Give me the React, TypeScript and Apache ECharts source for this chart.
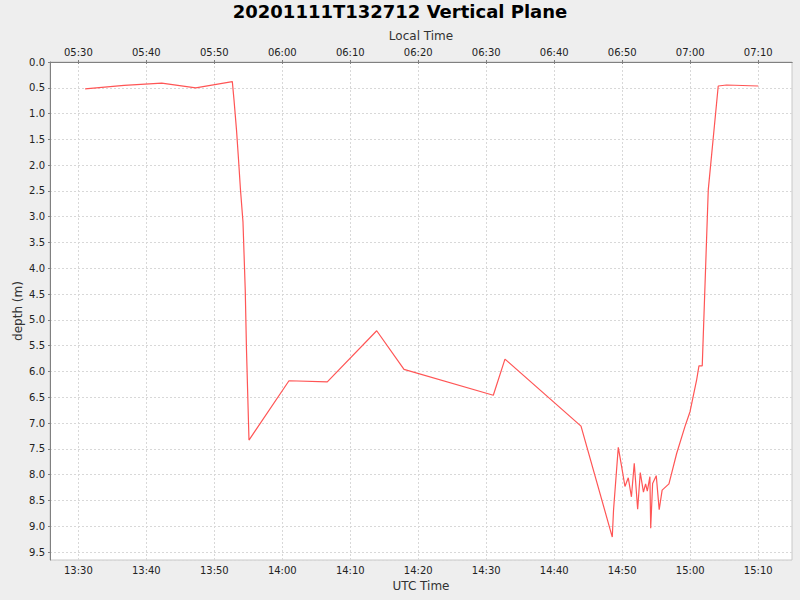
import React, { useEffect, useRef } from "react";
import * as echarts from "echarts";

const titleText = "20201111T132712 Vertical Plane";

// UTC sample times and depths (m)
const utcTimes = [
  "13:31:00", "13:36:44", "13:42:16", "13:47:16", "13:52:39", "13:52:54", "13:53:16", "13:53:34",
  "13:53:51", "13:54:13", "13:54:33", "13:54:44", "13:55:06", "14:00:59", "14:06:37", "14:13:53",
  "14:17:54", "14:31:02", "14:32:45", "14:43:56", "14:48:32", "14:48:43", "14:49:25", "14:49:55",
  "14:50:24", "14:50:53", "14:51:21", "14:51:46", "14:52:16", "14:52:39", "14:53:07", "14:53:26",
  "14:53:41", "14:54:04", "14:54:11", "14:54:28", "14:55:00", "14:55:26", "14:55:52", "14:56:52",
  "14:58:00", "14:59:13", "14:59:58", "15:00:32", "15:00:56", "15:01:17", "15:01:46", "15:02:39",
  "15:04:07", "15:05:21", "15:10:00",
];
const depths = [
  0.52, 0.455, 0.41, 0.5, 0.38, 0.74, 1.32, 1.9,
  2.48, 3.1, 4.42, 5.58, 7.33, 6.18, 6.2, 5.21,
  5.96, 6.46, 5.76, 7.06, 9.21, 8.69, 7.47, 7.85,
  8.23, 8.06, 8.43, 7.78, 8.67, 7.96, 8.34, 8.18,
  8.32, 8.04, 9.04, 8.17, 8.02, 8.68, 8.3, 8.18,
  7.59, 7.07, 6.78, 6.42, 6.17, 5.89, 5.89, 2.48,
  0.465, 0.446, 0.465,
];

const utcTickLabels = ["13:30", "13:40", "13:50", "14:00", "14:10", "14:20", "14:30", "14:40", "14:50", "15:00", "15:10"];
const localTickLabels = ["05:30", "05:40", "05:50", "06:00", "06:10", "06:20", "06:30", "06:40", "06:50", "07:00", "07:10"];

const xRangeStart = "13:25:50";
const xRangeEnd = "15:14:58";
const depthMin = 0;
const depthMax = 9.655;
const depthStep = 0.5;

const toMin = (s: string) => {
  const p = s.split(":").map(Number);
  return p[0] * 60 + p[1] + (p[2] || 0) / 60;
};

export default function App() {
  const ref = useRef<HTMLDivElement>(null);
  useEffect(() => {
    if (!ref.current) return;
    const chart = echarts.init(ref.current, null, { renderer: "svg" });
    const tickVals = utcTickLabels.map(toMin);
    const utcMap: Record<string, string> = {};
    const localMap: Record<string, string> = {};
    tickVals.forEach((v, i) => {
      utcMap[v.toFixed(3)] = utcTickLabels[i];
      localMap[v.toFixed(3)] = localTickLabels[i];
    });
    const font = "DejaVu Sans";
    const axisCommon = {
      type: "value",
      min: toMin(xRangeStart),
      max: toMin(xRangeEnd),
      axisLine: { show: true, lineStyle: { color: "#808080", width: 1 } },
      axisTick: { show: true, length: 2, customValues: tickVals, lineStyle: { color: "#808080" } },
      splitLine: { show: false },
      nameLocation: "middle",
      nameTextStyle: { fontFamily: font, fontSize: 12, color: "#333" },
    };
    const data = utcTimes.map((t, i) => [toMin(t), depths[i]]);
    chart.setOption({
      animation: false,
      backgroundColor: "#eeeeee",
      title: {
        text: titleText,
        left: "center",
        top: -3,
        textStyle: { fontFamily: font, fontSize: 18, fontWeight: "bold", color: "#000" },
      },
      grid: {
        left: 50,
        right: 8,
        top: 62,
        bottom: 40,
        show: true,
        backgroundColor: "#ffffff",
        borderColor: "#c8c8c8",
        borderWidth: 1,
      },
      xAxis: [
        {
          ...axisCommon,
          position: "bottom",
          name: "UTC Time",
          nameGap: 19,
          splitLine: { show: true, lineStyle: { color: "#d8d8d8", type: [2, 2], width: 1 } },
          axisLabel: {
            customValues: tickVals,
            margin: 5,
            fontFamily: font,
            fontSize: 10,
            color: "#222",
            formatter: (v: number) => utcMap[v.toFixed(3)] ?? "",
          },
        },
        {
          ...axisCommon,
          position: "top",
          name: "Local Time",
          nameGap: 19,
          axisLabel: {
            customValues: tickVals,
            margin: 5,
            fontFamily: font,
            fontSize: 10,
            color: "#222",
            formatter: (v: number) => localMap[v.toFixed(3)] ?? "",
          },
        },
      ],
      yAxis: {
        type: "value",
        inverse: true,
        min: depthMin,
        max: depthMax,
        interval: depthStep,
        name: "depth (m)",
        nameLocation: "middle",
        nameGap: 26,
        nameMoveOverlap: false,
        nameTextStyle: { fontFamily: font, fontSize: 12, color: "#333" },
        axisLine: { show: true, lineStyle: { color: "#808080", width: 1 } },
        axisTick: { show: true, length: 2, lineStyle: { color: "#808080" } },
        splitLine: { show: true, lineStyle: { color: "#d8d8d8", type: [2, 2], width: 1 } },
        axisLabel: {
          margin: 5,
          fontFamily: font,
          fontSize: 10,
          color: "#222",
          showMaxLabel: false,
          formatter: (v: number) => v.toFixed(1),
        },
      },
      series: [
        {
          type: "line",
          xAxisIndex: 0,
          data,
          showSymbol: false,
          symbol: "none",
          lineStyle: { color: "#ff5555", width: 1.2 },
          itemStyle: { color: "#ff5555" },
        },
      ],
    });
    return () => chart.dispose();
  }, []);
  return <div ref={ref} style={{ position: "absolute", left: 0, top: 0, width: 800, height: 600 }} />;
}
